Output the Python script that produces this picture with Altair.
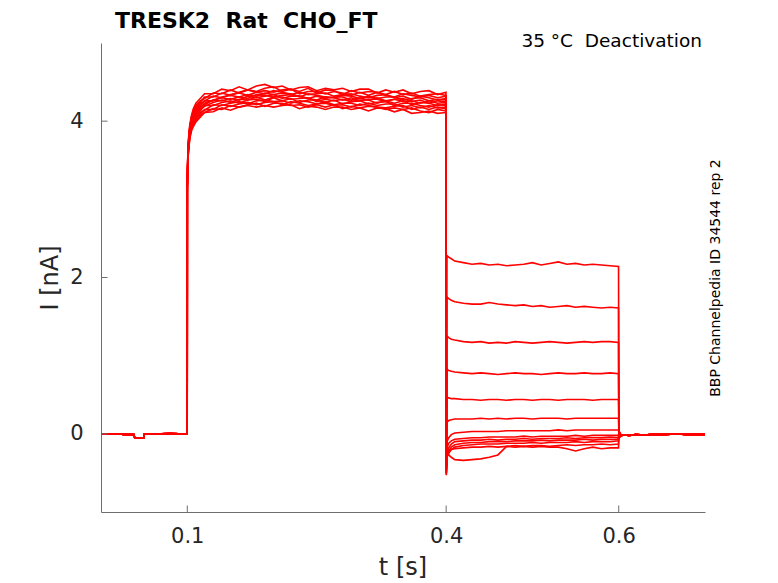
import altair as alt
import pandas as pd

# ---------------- data ----------------
x_tick_vals = [0.1, 0.4, 0.6]
y_tick_vals = [0, 2, 4]

# holding segment before the step (shared by all sweeps)
pre_t = [0.0, 0.01, 0.02, 0.03, 0.038, 0.0385, 0.0392, 0.0495, 0.0502, 0.06, 0.07, 0.08, 0.09, 0.0999]
pre_i = [0.0, -0.005, 0.0, -0.01, -0.01, -0.03, -0.05, -0.05, -0.005, 0.0, 0.0, 0.005, 0.0, 0.0]

# activation rise right after 0.1 s
rise_t = [0.1, 0.1005, 0.101, 0.102, 0.103, 0.105, 0.107, 0.11, 0.115]
rise_a = [3.20, 3.52, 3.70, 3.86, 3.96, 4.08, 4.16, 4.23, 4.29]
rise_b = [3.19, 3.50, 3.68, 3.84, 3.94, 4.06, 4.13, 4.20, 4.26]
rise_c = [3.18, 3.49, 3.67, 3.82, 3.93, 4.04, 4.11, 4.18, 4.24]
rise_d = [3.17, 3.48, 3.66, 3.81, 3.91, 4.02, 4.09, 4.16, 4.22]
rise_e = [3.17, 3.47, 3.65, 3.80, 3.90, 4.01, 4.08, 4.14, 4.20]
rise_f = [3.16, 3.46, 3.63, 3.78, 3.88, 3.99, 4.06, 4.12, 4.18]
rise_g = [3.15, 3.45, 3.62, 3.77, 3.87, 3.98, 4.05, 4.11, 4.17]
rise_h = [3.15, 3.44, 3.61, 3.76, 3.86, 3.97, 4.03, 4.09, 4.15]
rise_i = [3.14, 3.43, 3.60, 3.74, 3.84, 3.95, 4.01, 4.07, 4.13]
rise_j = [3.13, 3.42, 3.59, 3.73, 3.83, 3.93, 3.99, 4.05, 4.11]
rise_k = [3.12, 3.41, 3.57, 3.71, 3.81, 3.91, 3.97, 4.03, 4.09]
rise_l = [3.11, 3.40, 3.56, 3.70, 3.80, 3.90, 3.95, 4.01, 4.07]
rise_m = [3.10, 3.39, 3.55, 3.68, 3.78, 3.88, 3.93, 3.99, 4.05]

# plateau of the step (0.12 s .. 0.3998 s)
step_t = [0.12, 0.13, 0.14, 0.15, 0.16, 0.17, 0.18, 0.19, 0.20, 0.21, 0.22, 0.23, 0.24, 0.25,
          0.26, 0.27, 0.28, 0.29, 0.30, 0.31, 0.32, 0.33, 0.34, 0.35, 0.36, 0.37, 0.38, 0.39, 0.3998]
step_a = [4.35, 4.35, 4.41, 4.39, 4.44, 4.40, 4.45, 4.47, 4.43, 4.45, 4.40, 4.43, 4.44, 4.39, 4.42,
          4.40, 4.42, 4.38, 4.41, 4.41, 4.36, 4.40, 4.37, 4.40, 4.35, 4.38, 4.39, 4.34, 4.37]
step_b = [4.29, 4.36, 4.35, 4.40, 4.36, 4.40, 4.38, 4.42, 4.44, 4.38, 4.41, 4.38, 4.42, 4.36, 4.40,
          4.39, 4.34, 4.39, 4.36, 4.38, 4.37, 4.34, 4.38, 4.34, 4.36, 4.32, 4.34, 4.35, 4.33]
step_c = [4.31, 4.31, 4.36, 4.33, 4.37, 4.40, 4.37, 4.39, 4.37, 4.40, 4.41, 4.35, 4.38, 4.38, 4.35,
          4.38, 4.36, 4.33, 4.37, 4.33, 4.37, 4.33, 4.31, 4.35, 4.33, 4.31, 4.33, 4.30, 4.32]
step_d = [4.26, 4.32, 4.30, 4.34, 4.36, 4.33, 4.37, 4.35, 4.39, 4.37, 4.34, 4.37, 4.34, 4.35, 4.36,
          4.32, 4.34, 4.35, 4.32, 4.30, 4.33, 4.34, 4.30, 4.32, 4.28, 4.32, 4.30, 4.27, 4.29]
step_e = [4.26, 4.26, 4.31, 4.33, 4.31, 4.34, 4.32, 4.36, 4.34, 4.36, 4.35, 4.31, 4.35, 4.33, 4.31,
          4.30, 4.33, 4.32, 4.29, 4.32, 4.29, 4.31, 4.31, 4.27, 4.29, 4.30, 4.26, 4.28, 4.27]
step_f = [4.21, 4.27, 4.30, 4.28, 4.31, 4.29, 4.34, 4.33, 4.31, 4.33, 4.34, 4.32, 4.29, 4.32, 4.29,
          4.31, 4.31, 4.27, 4.30, 4.27, 4.30, 4.26, 4.28, 4.29, 4.25, 4.27, 4.23, 4.26, 4.25]
step_g = [4.23, 4.27, 4.26, 4.29, 4.27, 4.32, 4.30, 4.32, 4.34, 4.29, 4.32, 4.32, 4.29, 4.27, 4.31,
          4.30, 4.27, 4.30, 4.26, 4.28, 4.28, 4.25, 4.28, 4.25, 4.26, 4.23, 4.26, 4.23, 4.24]
step_h = [4.19, 4.24, 4.27, 4.24, 4.28, 4.27, 4.31, 4.27, 4.31, 4.31, 4.28, 4.29, 4.30, 4.25, 4.28,
          4.26, 4.28, 4.25, 4.27, 4.27, 4.23, 4.26, 4.23, 4.26, 4.21, 4.24, 4.23, 4.20, 4.22]
step_i = [4.20, 4.20, 4.24, 4.26, 4.23, 4.27, 4.28, 4.25, 4.30, 4.26, 4.29, 4.24, 4.27, 4.27, 4.24,
          4.27, 4.22, 4.25, 4.26, 4.22, 4.24, 4.25, 4.20, 4.23, 4.23, 4.20, 4.18, 4.21, 4.20]
step_j = [4.14, 4.21, 4.20, 4.23, 4.25, 4.22, 4.26, 4.27, 4.25, 4.26, 4.23, 4.26, 4.25, 4.22, 4.25,
          4.21, 4.23, 4.23, 4.20, 4.23, 4.20, 4.22, 4.22, 4.18, 4.20, 4.17, 4.20, 4.17, 4.18]
step_k = [4.15, 4.15, 4.21, 4.19, 4.22, 4.24, 4.21, 4.24, 4.25, 4.21, 4.25, 4.23, 4.20, 4.22, 4.23,
          4.20, 4.21, 4.18, 4.22, 4.20, 4.18, 4.17, 4.19, 4.20, 4.15, 4.18, 4.15, 4.18, 4.16]
step_l = [4.11, 4.16, 4.15, 4.20, 4.18, 4.21, 4.23, 4.19, 4.23, 4.23, 4.20, 4.21, 4.18, 4.21, 4.18,
          4.21, 4.16, 4.19, 4.17, 4.19, 4.18, 4.15, 4.17, 4.15, 4.17, 4.13, 4.11, 4.15, 4.13]
step_m = [4.11, 4.12, 4.17, 4.14, 4.18, 4.20, 4.18, 4.20, 4.18, 4.20, 4.21, 4.16, 4.19, 4.18, 4.15,
          4.18, 4.18, 4.15, 4.17, 4.13, 4.17, 4.16, 4.12, 4.15, 4.10, 4.11, 4.13, 4.10, 4.11]

# deactivation tails (0.4002 s .. 0.5998 s)
tail_t = [0.4002, 0.401, 0.403, 0.406, 0.41, 0.42, 0.43, 0.44, 0.45, 0.46, 0.47, 0.48,
          0.49, 0.50, 0.51, 0.52, 0.53, 0.54, 0.55, 0.56, 0.57, 0.58, 0.59, 0.5998]
tail_1 = [-0.40, 2.28, 2.26, 2.24, 2.21, 2.19, 2.17, 2.18, 2.16, 2.17, 2.15, 2.16,
          2.17, 2.19, 2.16, 2.18, 2.20, 2.17, 2.18, 2.16, 2.17, 2.16, 2.15, 2.14]
tail_2 = [-0.42, 1.75, 1.73, 1.71, 1.69, 1.67, 1.66, 1.66, 1.68, 1.66, 1.65, 1.64,
          1.65, 1.63, 1.64, 1.62, 1.63, 1.64, 1.62, 1.63, 1.62, 1.61, 1.62, 1.61]
tail_3 = [-0.38, 1.25, 1.23, 1.21, 1.20, 1.18, 1.17, 1.18, 1.16, 1.17, 1.16, 1.18,
          1.17, 1.16, 1.17, 1.18, 1.17, 1.16, 1.17, 1.18, 1.17, 1.18, 1.18, 1.17]
tail_4 = [-0.40, 0.83, 0.81, 0.80, 0.79, 0.78, 0.77, 0.78, 0.77, 0.76, 0.77, 0.78,
          0.77, 0.77, 0.76, 0.77, 0.78, 0.77, 0.77, 0.78, 0.77, 0.77, 0.78, 0.77]
tail_5 = [-0.42, 0.47, 0.46, 0.45, 0.45, 0.44, 0.44, 0.43, 0.44, 0.44, 0.43, 0.44,
          0.44, 0.43, 0.44, 0.44, 0.43, 0.44, 0.44, 0.44, 0.43, 0.44, 0.44, 0.44]
tail_6 = [-0.45, 0.15, 0.17, 0.18, 0.19, 0.19, 0.19, 0.20, 0.19, 0.20, 0.19, 0.20,
          0.20, 0.19, 0.20, 0.20, 0.20, 0.19, 0.20, 0.20, 0.20, 0.20, 0.20, 0.20]
tail_7 = [-0.45, -0.10, -0.05, -0.01, 0.01, 0.02, 0.03, 0.03, 0.03, 0.03, 0.04, 0.04,
          0.04, 0.04, 0.04, 0.04, 0.05, 0.04, 0.05, 0.05, 0.05, 0.05, 0.05, 0.05]
tail_8 = [-0.48, -0.18, -0.12, -0.09, -0.07, -0.06, -0.05, -0.05, -0.04, -0.04, -0.04, -0.04,
          -0.03, -0.04, -0.03, -0.03, -0.03, -0.03, -0.02, -0.03, -0.02, -0.02, -0.02, -0.02]
tail_9 = [-0.48, -0.25, -0.18, -0.13, -0.10, -0.09, -0.08, -0.08, -0.07, -0.08, -0.07, -0.07,
          -0.06, -0.07, -0.06, -0.06, -0.06, -0.05, -0.06, -0.05, -0.05, -0.05, -0.04, -0.05]
tail_10 = [-0.50, -0.28, -0.22, -0.17, -0.14, -0.12, -0.11, -0.11, -0.10, -0.10, -0.10, -0.09,
           -0.09, -0.09, -0.08, -0.09, -0.08, -0.08, -0.08, -0.07, -0.08, -0.07, -0.07, -0.07]
tail_11 = [-0.50, -0.30, -0.25, -0.20, -0.17, -0.15, -0.14, -0.13, -0.13, -0.13, -0.12, -0.12,
           -0.12, -0.11, -0.12, -0.11, -0.11, -0.11, -0.10, -0.11, -0.10, -0.10, -0.10, -0.09]
tail_12 = [-0.52, -0.25, -0.22, -0.20, -0.19, -0.18, -0.17, -0.17, -0.16, -0.17, -0.16, -0.15,
           -0.16, -0.15, -0.15, -0.16, -0.15, -0.14, -0.15, -0.14, -0.14, -0.13, -0.14, -0.13]
tail_13 = [-0.53, -0.20, -0.27, -0.30, -0.33, -0.34, -0.33, -0.32, -0.30, -0.27, -0.16, -0.17,
           -0.16, -0.17, -0.16, -0.17, -0.17, -0.19, -0.22, -0.19, -0.17, -0.19, -0.18, -0.18]

# return to holding after 0.6 s
post_start_t = 0.6002
post_start_i = [-0.06, -0.05, -0.04, -0.03, -0.02, -0.01, 0.0, 0.01, 0.02, 0.02, 0.03, 0.03, 0.04]
post_t = [0.603, 0.607, 0.612, 0.62, 0.63, 0.64, 0.65, 0.66, 0.67, 0.68, 0.69, 0.7]
post_i = [-0.02, -0.015, -0.02, -0.01, -0.015, -0.005, -0.01, -0.005, 0.0, -0.01, -0.005, -0.01]

rises = [rise_a, rise_b, rise_c, rise_d, rise_e, rise_f, rise_g, rise_h, rise_i, rise_j, rise_k, rise_l, rise_m]
steps = [step_a, step_b, step_c, step_d, step_e, step_f, step_g, step_h, step_i, step_j, step_k, step_l, step_m]
tails = [tail_1, tail_2, tail_3, tail_4, tail_5, tail_6, tail_7, tail_8, tail_9, tail_10, tail_11, tail_12, tail_13]

rows = []
for k in range(len(steps)):
    ts = pre_t + rise_t + step_t + tail_t + [post_start_t] + post_t
    vs = pre_i + rises[k] + steps[k] + tails[k] + [post_start_i[k]] + post_i
    for n, (t, v) in enumerate(zip(ts, vs)):
        rows.append({"t": t, "I": v, "sweep": k, "n": n})
df = pd.DataFrame(rows)

FONT = "DejaVu Sans"
W, H = 604, 469
AX = "#6e6e6e"
TXT = "#262626"

x_scale = alt.Scale(domain=[0, 0.7], nice=False, zero=False)
y_scale = alt.Scale(domain=[-1, 5], nice=False, zero=False)

lines = alt.Chart(df).mark_line(color="#ff0000", strokeWidth=1.6, clip=True).encode(
    x=alt.X("t:Q", scale=x_scale,
            axis=alt.Axis(values=x_tick_vals, format=".1f", title=None, ticks=False, grid=False,
                          domainColor=AX, domainWidth=1, labelFontSize=21, labelColor=TXT,
                          labelFont=FONT, labelPadding=13)),
    y=alt.Y("I:Q", scale=y_scale,
            axis=alt.Axis(values=y_tick_vals, format="d", title=None, ticks=False, grid=False,
                          domainColor=AX, domainWidth=1, labelFontSize=21, labelColor=TXT,
                          labelFont=FONT, labelPadding=18)),
    detail="sweep:N",
    order="n:Q",
)

xt = alt.Chart(pd.DataFrame({"t": x_tick_vals})).mark_rule(color=AX, strokeWidth=1).encode(
    x=alt.X("t:Q", scale=x_scale), y=alt.value(H), y2=alt.value(H - 6.5))
yt = alt.Chart(pd.DataFrame({"I": y_tick_vals})).mark_rule(color=AX, strokeWidth=1).encode(
    y=alt.Y("I:Q", scale=y_scale), x=alt.value(0), x2=alt.value(6.5))

one = alt.Data(values=[{}])


def label(text, x, y, size, weight="normal", align="center", baseline="alphabetic", angle=0, color=TXT):
    kw = dict(font=FONT, fontSize=size, fontWeight=weight, align=align, baseline=baseline, color=color)
    if angle:
        kw["angle"] = angle
    return alt.Chart(one).mark_text(**kw).encode(
        x=alt.value(x), y=alt.value(y), text=alt.value(text))


title = label("TRESK2\u00a0\u00a0Rat\u00a0\u00a0CHO_FT", 14, -15, 22, weight="bold", align="left", color="#000000")
cond = label("35 \u00b0C\u00a0\u00a0Deactivation", 601, 4, 18.5, align="right", color="#000000")
side = label("BBP Channelpedia ID 34544 rep 2", 619, 235, 14, angle=270, color="#000000")
xlab = label("t [s]", 302, 532, 24)
ylab = label("I [nA]", -43, 235, 24, angle=270)

chart = alt.layer(lines, xt, yt, title, cond, side, xlab, ylab).properties(
    width=W, height=H,
    background="white",
    autosize=alt.AutoSizeParams(type="none"),
    padding={"left": 93, "top": 35, "right": 60, "bottom": 72},
).configure_view(stroke=None)

chart.save("out.html", embed_options={"renderer": "svg", "actions": False})
